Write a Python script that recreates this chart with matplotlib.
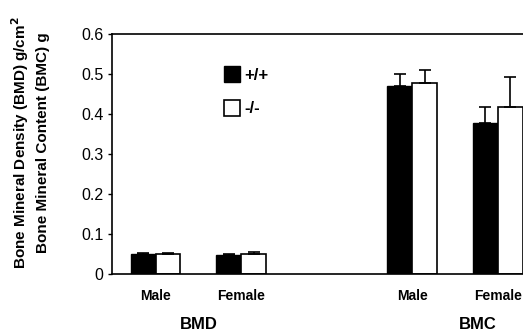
import numpy as np
import matplotlib
matplotlib.use("Agg")
from matplotlib import pyplot as plt

plt.rcParams['font.family'] = ['Liberation Sans', 'DejaVu Sans']

# data
groups = ["Male", "Female", "Male", "Female"]
wt_vals = [0.050, 0.048, 0.470, 0.378]
wt_err = [0.002, 0.002, 0.030, 0.040]
ko_vals = [0.050, 0.050, 0.477, 0.418]
ko_err = [0.002, 0.006, 0.033, 0.075]
positions = [0, 1, 3, 4]
yticks = [0, 0.1, 0.2, 0.3, 0.4, 0.5, 0.6]

fig = plt.figure(figsize=(5.23, 3.33), dpi=100)
ax = fig.add_axes([0.214, 0.177, 0.80, 0.721])

w = 0.29
x = np.array(positions)
ekw = dict(elinewidth=1.2, capthick=1.2)
ax.bar(x - w/2, wt_vals, w, color='black', edgecolor='black', linewidth=1, label='+/+')
ax.errorbar(x - w/2, wt_vals, yerr=[np.zeros(4), wt_err], fmt='none', ecolor='black', capsize=4, **ekw)
ax.bar(x + w/2, ko_vals, w, color='white', edgecolor='black', linewidth=1.2, label='-/-')
ax.errorbar(x + w/2, ko_vals, yerr=[np.zeros(4), ko_err], fmt='none', ecolor='black', capsize=4, **ekw)

ax.set_ylim(0, 0.6)
ax.set_xlim(-0.51, 4.38)
ax.set_yticks(yticks)
ax.set_yticklabels(["0", "0.1", "0.2", "0.3", "0.4", "0.5", "0.6"], fontsize=11.5)
ax.set_xticks(x)
ax.set_xticklabels(groups, fontsize=10, fontweight='bold')
ax.tick_params(axis='x', length=0, pad=11)
ax.tick_params(axis='y', length=3, width=1, direction='out', pad=3)
ax.spines['right'].set_visible(False)
for s in ['left', 'top', 'bottom']:
    ax.spines[s].set_linewidth(1.2)

ax.text(0.5, -0.212, "BMD", transform=ax.get_xaxis_transform(), ha='center', va='center',
        fontsize=12, fontweight='bold')
ax.text(3.76, -0.212, "BMC", transform=ax.get_xaxis_transform(), ha='center', va='center',
        fontsize=12, fontweight='bold')

fig.text(0.038, 0.572, "Bone Mineral Density (BMD) g/cm$^\\mathbf{2}$", rotation=90,
         ha='center', va='center', fontsize=11, fontweight='bold')
fig.text(0.082, 0.572, "Bone Mineral Content (BMC) g", rotation=90,
         ha='center', va='center', fontsize=11, fontweight='bold')

leg = ax.legend(loc='upper left', bbox_to_anchor=(0.232, 0.928), frameon=False,
                handlelength=0.95, handleheight=1.1, handletextpad=0.25, labelspacing=1.0,
                prop={'weight': 'bold', 'size': 12})

fig.savefig("out.png", dpi=100)
